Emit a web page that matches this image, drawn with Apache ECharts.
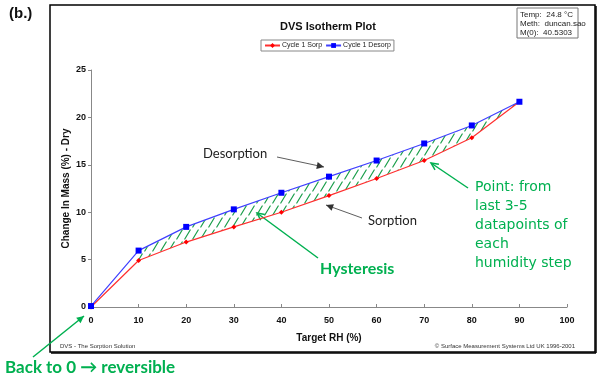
<!DOCTYPE html>
<html>
<head>
<meta charset="utf-8">
<script src="https://cdn.jsdelivr.net/npm/echarts@6/dist/echarts.min.js"></script>
<style>html,body{margin:0;padding:0;background:#fff}#c{width:602px;height:382px}</style>
</head>
<body>
<div id="c"></div>
<script>
// ---- data ----
const rhSorp = [0, 10, 20, 30, 40, 50, 60, 70, 80, 90];
const massSorp = [0, 4.9, 6.85, 8.45, 10.0, 11.75, 13.55, 15.45, 17.85, 21.65];
const rhDesorp = [90, 80, 70, 60, 50, 40, 30, 20, 10, 0];
const massDesorp = [21.65, 19.15, 17.25, 15.45, 13.75, 12.05, 10.3, 8.45, 5.95, 0.1];
const xTicks = [0, 10, 20, 30, 40, 50, 60, 70, 80, 90, 100];
const yTicks = [0, 5, 10, 15, 20, 25];
const infoLines = ['Temp:  24.8 °C', 'Meth:  duncan.sao', 'M(0):  40.5303'];

const sorpData = rhSorp.map((x, i) => [x, massSorp[i]]);
const desorpData = rhDesorp.map((x, i) => [x, massDesorp[i]]);

// hatch pattern
const pc = document.createElement('canvas');
pc.width = 8; pc.height = 12;
const g = pc.getContext('2d');
g.strokeStyle = '#1a9e4a';
g.lineWidth = 1.2;
g.lineCap = 'round';
g.beginPath(); g.moveTo(0.8, 11); g.lineTo(6.2, 2); g.stroke();

const chart = echarts.init(document.getElementById('c'), null, {renderer: 'canvas'});
const F = 'Liberation Sans, Arial, sans-serif';
const GREEN = '#00b050';

function arrow(x1, y1, x2, y2, color, filled, w) {
  const a = Math.atan2(y2 - y1, x2 - x1);
  const L = 8, s = 0.45;
  const p1 = [x2 - L * Math.cos(a - s), y2 - L * Math.sin(a - s)];
  const p2 = [x2 - L * Math.cos(a + s), y2 - L * Math.sin(a + s)];
  const els = [{type: 'line', shape: {x1, y1, x2, y2}, style: {stroke: color, lineWidth: w}}];
  if (filled) {
    els.push({type: 'polygon', shape: {points: [[x2, y2], p1, p2]}, style: {fill: color}});
  } else {
    els.push({type: 'polyline', shape: {points: [p1, [x2, y2], p2]}, style: {stroke: color, lineWidth: w, fill: null}});
  }
  return {type: 'group', children: els};
}

const option = {
  animation: false,
  title: {text: 'DVS Isotherm Plot', left: 323, textAlign: 'center', top: 16,
    textStyle: {fontFamily: F, fontSize: 11, fontWeight: 'bold', color: '#111'}},
  legend: {
    data: ['Cycle 1 Sorp', 'Cycle 1 Desorp'], left: 261, top: 40,
    borderColor: '#888', borderWidth: 1, padding: [2, 3], itemGap: 3,
    itemWidth: 15, itemHeight: 6,
    textStyle: {fontFamily: F, fontSize: 7, color: '#222', padding: [0, 0, 0, -3]}
  },
  grid: {left: 91, right: 35, top: 70, bottom: 75},
  xAxis: {
    type: 'value', min: 0, max: 100, interval: 10,
    name: 'Target RH (%)', nameLocation: 'middle', nameGap: 26, nameMoveOverlap: false,
    nameTextStyle: {fontFamily: F, fontSize: 10, fontWeight: 'bold', color: '#111'},
    axisLine: {lineStyle: {color: '#888'}},
    axisTick: {inside: true, length: 3, lineStyle: {color: '#888'}},
    axisLabel: {fontFamily: F, fontSize: 9, fontWeight: 'bold', color: '#111', margin: 9,
      formatter: v => xTicks.includes(v) ? String(v) : ''},
    splitLine: {show: false}
  },
  yAxis: {
    type: 'value', min: 0, max: 25, interval: 5,
    name: 'Change In Mass (%) - Dry', nameLocation: 'middle', nameGap: 20, nameMoveOverlap: false,
    nameTextStyle: {fontFamily: F, fontSize: 10, fontWeight: 'bold', color: '#111'},
    axisLine: {show: true, lineStyle: {color: '#888'}},
    axisTick: {show: true, length: 3, lineStyle: {color: '#888'}},
    axisLabel: {fontFamily: F, fontSize: 9, fontWeight: 'bold', color: '#111', margin: 5,
      formatter: v => yTicks.includes(v) ? String(v) : ''},
    splitLine: {show: false}
  },
  series: [
    {
      type: 'custom', silent: true, z: 1, data: [0],
      renderItem: function (params, api) {
        const pts = [];
        sorpData.forEach(d => { if (d[0] >= 10) pts.push(api.coord(d)); });
        desorpData.forEach(d => { if (d[0] >= 10) pts.push(api.coord(d)); });
        return {type: 'polygon', shape: {points: pts},
          style: {fill: {image: pc, repeat: 'repeat'}, stroke: null}};
      }
    },
    {
      name: 'Cycle 1 Sorp', type: 'line', data: sorpData, z: 3,
      symbol: 'diamond', symbolSize: 5, color: '#ff0000',
      lineStyle: {color: '#ff3030', width: 1.2}, itemStyle: {color: '#ff0000'}
    },
    {
      name: 'Cycle 1 Desorp', type: 'line', data: desorpData, z: 4,
      symbol: 'rect', symbolSize: 6, color: '#0000ff',
      lineStyle: {color: '#4040ff', width: 1.2}, itemStyle: {color: '#0000ff'}
    }
  ],
  graphic: [
    {type: 'rect', shape: {x: 50, y: 5, width: 545, height: 347}, style: {fill: null, stroke: '#000', lineWidth: 1.5}, silent: true, z: -1},
    {type: 'line', shape: {x1: 596, y1: 6, x2: 596, y2: 353}, style: {stroke: '#000', lineWidth: 1.5}, z: -1},
    {type: 'line', shape: {x1: 51, y1: 353, x2: 596, y2: 353}, style: {stroke: '#000', lineWidth: 1.5}, z: -1},
    {type: 'text', left: 9, top: 6, style: {text: '(b.)', font: 'bold 15px ' + F, fill: '#111'}},
    {type: 'rect', shape: {x: 517, y: 8, width: 61, height: 30}, style: {fill: '#fff', stroke: '#777', lineWidth: 1}},
    {type: 'text', x: 520, y: 10, style: {text: infoLines.join('\n'), font: '8px ' + F, lineHeight: 9, fill: '#222'}},
    {type: 'text', x: 60, y: 343, style: {text: 'DVS - The Sorption Solution', font: '6px ' + F, fill: '#333'}},
    {type: 'text', x: 575, y: 343, style: {text: '© Surface Measurement Systems Ltd UK 1996-2001', font: '6px ' + F, fill: '#333', align: 'right'}},
    {type: 'text', x: 203, y: 147, style: {text: 'Desorption', font: '13px Lato, sans-serif', fill: '#222'}},
    {type: 'text', x: 368, y: 214, style: {text: 'Sorption', font: '13px Lato, sans-serif', fill: '#222'}},
    arrow(277, 157, 324, 167, '#333', true, 0.8),
    arrow(362, 218, 326, 205, '#333', true, 0.8),
    {type: 'text', x: 320, y: 261, style: {text: 'Hysteresis', font: 'bold 16px Lato, sans-serif', fill: GREEN}},
    arrow(318, 258, 257, 213, GREEN, false, 1.5),
    {type: 'text', x: 475, y: 178, style: {text: 'Point: from\nlast 3-5\ndatapoints of\neach\nhumidity step', font: '14px "DejaVu Sans", sans-serif', lineHeight: 19, fill: GREEN}},
    arrow(468, 188, 431, 163, GREEN, false, 1.5),
    {type: 'text', x: 5, y: 359, style: {text: 'Back to 0 → reversible', font: 'bold 17px Lato, sans-serif', fill: GREEN}},
    arrow(33, 357, 84, 316, GREEN, true, 1.5)
  ]
};
chart.setOption(option);
</script>
</body>
</html>
